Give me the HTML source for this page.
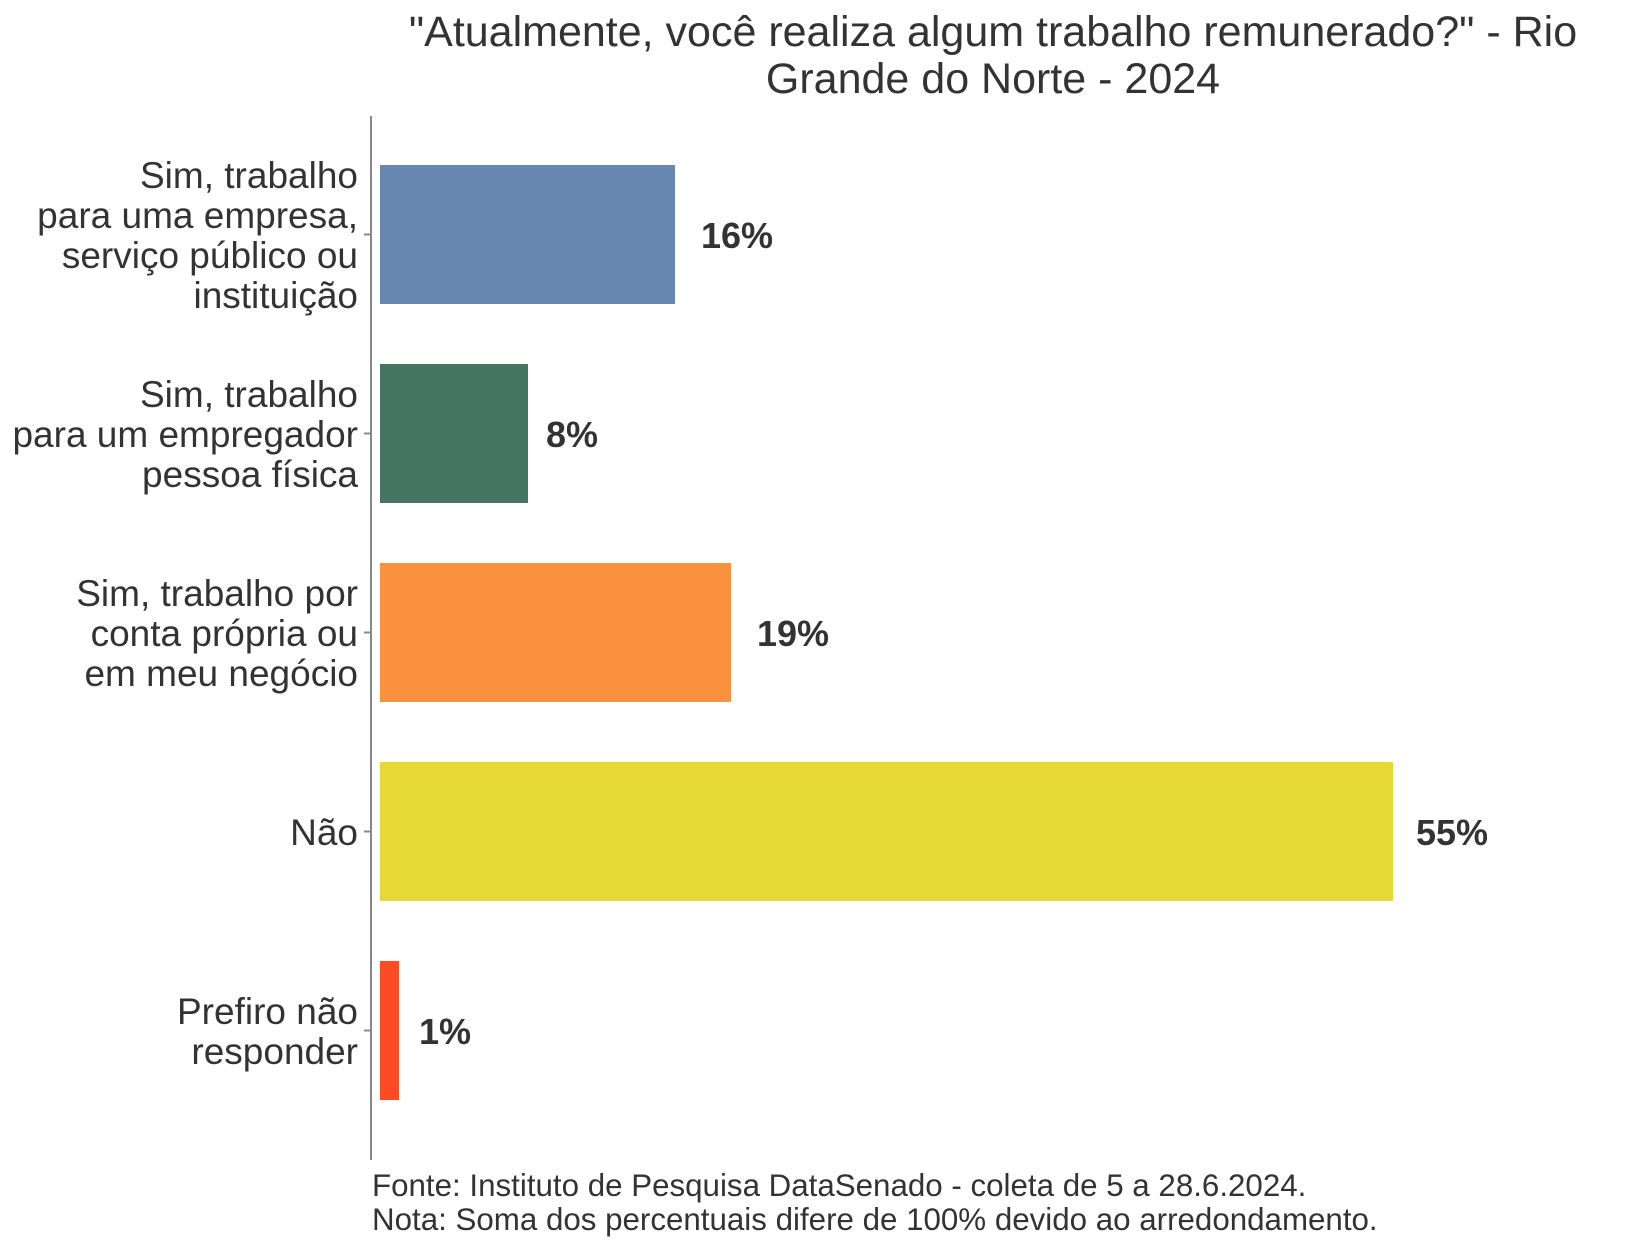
<!DOCTYPE html>
<html><head><meta charset="utf-8"><style>
html,body{margin:0;padding:0;background:#fff;}
svg{display:block;font-family:"Liberation Sans",Arial,sans-serif;}
</style></head><body>
<svg width="1632" height="1248" viewBox="0 0 1632 1248" xmlns="http://www.w3.org/2000/svg">
<rect width="1632" height="1248" fill="#fff"/>
<g fill="#333333" font-size="43" text-anchor="middle">
<text x="993" y="46">"Atualmente, você realiza algum trabalho remunerado?" - Rio</text>
<text x="993" y="93">Grande do Norte - 2024</text>
</g>
<line x1="371" y1="116" x2="371" y2="1160" stroke="#888" stroke-width="2"/>
<g stroke="#888" stroke-width="2">
<line x1="364" y1="234.5" x2="371" y2="234.5"/>
<line x1="364" y1="433.5" x2="371" y2="433.5"/>
<line x1="364" y1="632.5" x2="371" y2="632.5"/>
<line x1="364" y1="831.5" x2="371" y2="831.5"/>
<line x1="364" y1="1030.5" x2="371" y2="1030.5"/>
</g>
<rect x="380" y="165" width="295" height="139" fill="#6688b0"/>
<rect x="380" y="364" width="148" height="139" fill="#467563"/>
<rect x="380" y="563" width="351" height="139" fill="#fa913e"/>
<rect x="380" y="762" width="1013" height="139" fill="#e6d835"/>
<rect x="380" y="961" width="19" height="139" fill="#fd4b25"/>
<g fill="#333333" font-size="36" font-weight="bold">
<text x="701" y="248">16%</text>
<text x="546" y="447">8%</text>
<text x="757" y="646">19%</text>
<text x="1416" y="845">55%</text>
<text x="419" y="1044">1%</text>
</g>
<g fill="#333333" font-size="37" text-anchor="end">
<text x="358" y="188">Sim, trabalho</text>
<text x="358" y="228">para uma empresa,</text>
<text x="358" y="268">serviço público ou</text>
<text x="358" y="308">instituição</text>
<text x="358" y="407">Sim, trabalho</text>
<text x="358" y="447">para um empregador</text>
<text x="358" y="487">pessoa física</text>
<text x="358" y="606">Sim, trabalho por</text>
<text x="358" y="646">conta própria ou</text>
<text x="358" y="686">em meu negócio</text>
<text x="358" y="845">Não</text>
<text x="358" y="1024">Prefiro não</text>
<text x="358" y="1064">responder</text>
</g>
<g fill="#333333" font-size="31.3">
<text x="372" y="1196">Fonte: Instituto de Pesquisa DataSenado - coleta de 5 a 28.6.2024.</text>
<text x="372" y="1230">Nota: Soma dos percentuais difere de 100% devido ao arredondamento.</text>
</g>
</svg>
</body></html>
